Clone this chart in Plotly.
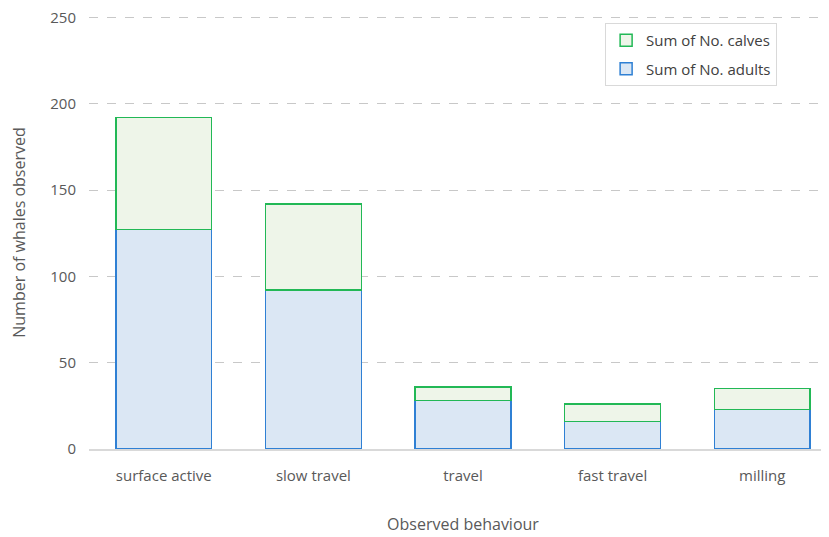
import plotly.graph_objects as go

behaviours = ["surface active", "slow travel", "travel", "fast travel", "milling"]
adults = [127, 92, 28, 16, 23]
calves = [65, 50, 8, 10, 12]

fig = go.Figure()
fig.add_trace(go.Bar(x=behaviours, y=adults, name="Sum of No. adults",
                     legendgroup="a", legendrank=2,
                     marker=dict(color="#dbe7f4", line=dict(color="#2f80d4", width=1.5))))
fig.add_trace(go.Bar(x=behaviours, y=calves, name="Sum of No. calves",
                     legendgroup="c", legendrank=1,
                     marker=dict(color="#eef5e9", line=dict(color="#22b856", width=1.5))))

fig.update_layout(
    barmode="stack", bargap=0.36,
    width=829, height=537,
    margin=dict(l=81, r=0, t=8, b=96),
    paper_bgcolor="white", plot_bgcolor="white",
    font=dict(family="Open Sans, Liberation Sans, sans-serif", size=15, color="#595959"),
    showlegend=True,
    legend=dict(x=0.69, y=0.984, xanchor="left", yanchor="top",
                bordercolor="#d9d9d9", borderwidth=1, bgcolor="white",
                traceorder="grouped", tracegroupgap=6, itemwidth=30,
                font=dict(size=15, color="#404040")),
    xaxis=dict(title=dict(text="Observed behaviour", standoff=35, font=dict(size=16)),
               showline=True, linecolor="#d9d9d9", linewidth=1.5, ticks="",
               automargin=False, ticklabelstandoff=12, tickfont=dict(size=15)),
    yaxis=dict(title=dict(text="Number of whales observed", standoff=20, font=dict(size=16)),
               range=[0, 250.8], tickvals=[0, 50, 100, 150, 200, 250], showgrid=True,
               gridcolor="#c8c8c8", griddash="dash", zeroline=False,
               ticklabeloverflow="allow",
               automargin=False, ticklabelstandoff=12, tickfont=dict(size=15)),
)

fig.write_html("out.html")
